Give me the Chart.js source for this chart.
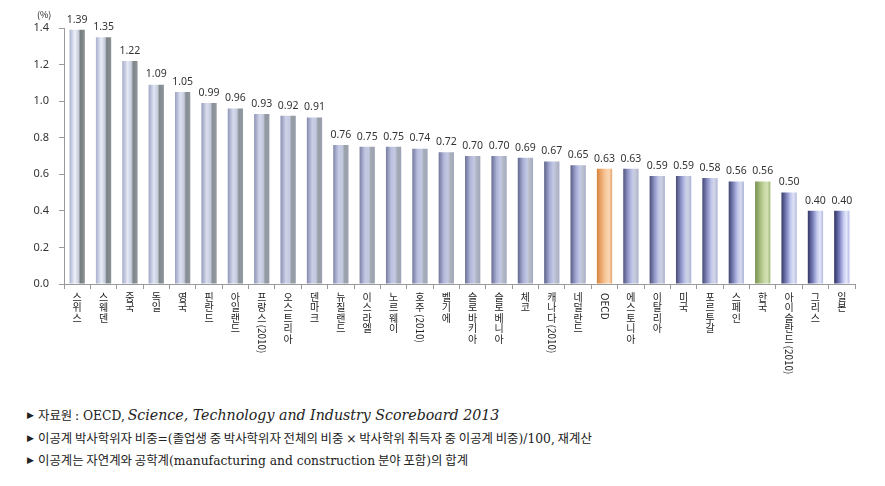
<!DOCTYPE html>
<html>
<head>
<meta charset="utf-8">
<script src="https://cdn.jsdelivr.net/npm/chart.js@4.4.1/dist/chart.umd.min.js"></script>
<style>
  html, body { margin: 0; padding: 0; background: #fff; }
  #wrap { position: relative; width: 885px; height: 486px; }
  #chart { position: absolute; left: 0; top: 0; }
  #unit { position: absolute; left: 37px; top: 8px; font: 9px "Noto Sans CJK KR", sans-serif; color: #222; }
  .note { position: absolute; left: 27px; font-family: "Noto Sans CJK KR", sans-serif; font-size: 12.4px; color: #222; white-space: nowrap; }
  .note .l { font-family: "DejaVu Serif", serif; font-size: 12.3px; }
  .note i { font-family: "DejaVu Serif", serif; font-size: 14.2px; }
  .note .tri { font-family: "DejaVu Sans"; font-size: 9px; display: inline-block; width: 11px; vertical-align: 2px; }
</style>
</head>
<body>
<div id="wrap">
  <canvas id="chart" width="885" height="395"></canvas>
  <div id="unit">(%)</div>
  <div id="notes"></div>
</div>
<script>
// 이공계 박사학위자 비중 (%)
const categories = ['스위스', '스웨덴', '중국', '독일', '영국', '핀란드', '아일랜드', '프랑스(2010)', '오스트리아', '덴마크',
  '뉴질랜드', '이스라엘', '노르웨이', '호주(2010)', '벨기에', '슬로바키아', '슬로베니아', '체코', '캐나다(2010)', '네덜란드',
  'OECD', '에스토니아', '이탈리아', '미국', '포르투갈', '스페인', '한국', '아이슬란드(2010)', '그리스', '일본'];
const values = [1.39, 1.35, 1.22, 1.09, 1.05, 0.99, 0.96, 0.93, 0.92, 0.91,
  0.76, 0.75, 0.75, 0.74, 0.72, 0.70, 0.70, 0.69, 0.67, 0.65,
  0.63, 0.63, 0.59, 0.59, 0.58, 0.56, 0.56, 0.50, 0.40, 0.40];
const yMax = 1.4, yStep = 0.2;
const notes = [
  '자료원 <span class="l">: OECD,</span> <i>Science, Technology and Industry Scoreboard 2013</i>',
  '이공계 박사학위자 비중<span class="l">=(</span>졸업생 중 박사학위자 전체의 비중 <span class="l">×</span> 박사학위 취득자 중 이공계 비중<span class="l">)/100,</span> 재계산',
  '이공계는 자연계와 공학계<span class="l">(manufacturing and construction</span> 분야 포함<span class="l">)</span>의 합계'
];

// 각주
const notesEl = document.getElementById('notes');
notes.forEach((t, i) => {
  const d = document.createElement('div');
  d.className = 'note';
  d.style.top = (406 + i * 22.5) + 'px';
  d.innerHTML = '<span class="tri">▶</span>' + t;
  notesEl.appendChild(d);
});

// 원통 느낌 그라데이션 (왼쪽 막대 -> 오른쪽 막대로 조명이 바뀜)
const STOPS_A = [[0, [170, 179, 207]], [0.35, [238, 241, 250]], [0.6, [196, 202, 216]], [0.7, [118, 126, 128]], [1, [140, 146, 148]]];
const STOPS_B = [[0, [46, 48, 96]], [0.35, [122, 128, 189]], [0.6, [194, 200, 239]], [0.8, [230, 233, 251]], [1, [181, 187, 230]]];
const STOPS_OECD = [[0, [214, 132, 60]], [0.35, [240, 176, 120]], [0.6, [248, 204, 160]], [0.8, [251, 215, 178]], [1, [226, 164, 112]]];
const STOPS_KR = [[0, [122, 146, 80]], [0.35, [168, 190, 128]], [0.6, [200, 216, 164]], [0.8, [212, 226, 180]], [1, [160, 182, 122]]];
const BAR_PCT = 0.58;

function barGradient(c, left, right, i, n, name) {
  const g = c.createLinearGradient(left, 0, right, 0);
  let stops;
  if (name === 'OECD') stops = STOPS_OECD;
  else if (name === '한국') stops = STOPS_KR;
  else {
    const t = i / (n - 1);
    stops = STOPS_A.map((s, k) => {
      const b = STOPS_B[k];
      return [s[0] + (b[0] - s[0]) * t, s[1].map((v, j) => Math.round(v + (b[1][j] - v) * t))];
    });
  }
  stops.forEach(s => g.addColorStop(s[0], 'rgb(' + s[1].join(',') + ')'));
  return g;
}

function barColor(ctx) {
  const chart = ctx.chart, xs = chart.scales.x;
  if (!xs || !chart.chartArea) return '#c8cdf0';
  const x = xs.getPixelForValue(ctx.dataIndex);
  const half = xs.width / categories.length * BAR_PCT / 2;
  return barGradient(chart.ctx, x - half, x + half, ctx.dataIndex, categories.length, categories[ctx.dataIndex]);
}

const valueLabels = {
  id: 'valueLabels',
  afterDatasetsDraw(chart) {
    const c = chart.ctx;
    const meta = chart.getDatasetMeta(0);
    c.save();
    c.font = '10.5px "Noto Sans", sans-serif';
    c.fillStyle = '#333';
    c.textAlign = 'center';
    c.textBaseline = 'bottom';
    meta.data.forEach((bar, i) => c.fillText(values[i].toFixed(2), bar.x, bar.y - 5));
    c.restore();
  }
};

// 세로쓰기 x축 라벨 (한글은 글자마다 줄바꿈, 괄호/영문은 90도 회전)
const xLabels = {
  id: 'xLabels',
  afterDraw(chart) {
    const c = chart.ctx, xs = chart.scales.x;
    c.save();
    c.fillStyle = '#222';
    categories.forEach((name, i) => {
      const x = xs.getPixelForValue(i);
      const m = name.match(/^([^(A-Za-z]*)(.*)$/);
      let y = 292;
      c.font = '10px "Noto Sans CJK KR", sans-serif';
      c.textAlign = 'center';
      c.textBaseline = 'top';
      for (const ch of m[1]) { c.fillText(ch, x, y); y += 10.5; }
      if (m[2]) {
        c.save();
        c.translate(x, y + 1);
        c.rotate(Math.PI / 2);
        c.textAlign = 'left';
        c.textBaseline = 'middle';
        c.fillText(m[2], 0, 0);
        c.restore();
      }
    });
    c.restore();
  }
};

new Chart(document.getElementById('chart'), {
  type: 'bar',
  data: {
    labels: categories,
    datasets: [{ data: values, backgroundColor: barColor, barPercentage: BAR_PCT, categoryPercentage: 1 }]
  },
  options: {
    responsive: false,
    animation: false,
    layout: { padding: { top: 28, right: 30, bottom: 0, left: 0 } },
    plugins: { legend: { display: false }, tooltip: { enabled: false } },
    scales: {
      x: {
        grid: { display: true, drawOnChartArea: false, offset: true, tickLength: 5, color: '#9a9a9a' },
        border: { color: '#9a9a9a' },
        ticks: { display: false },
        afterFit: s => { s.height = 395 - 284; }
      },
      y: {
        min: 0, max: yMax,
        ticks: { stepSize: yStep, callback: v => v.toFixed(1), font: { family: 'Noto Sans', size: 11 }, color: '#333', padding: 10 },
        grid: { drawOnChartArea: false, tickLength: 5, color: '#9a9a9a' },
        border: { color: '#9a9a9a' },
        afterFit: s => { s.width = 64; }
      }
    }
  },
  plugins: [valueLabels, xLabels]
});
</script>
</body>
</html>
